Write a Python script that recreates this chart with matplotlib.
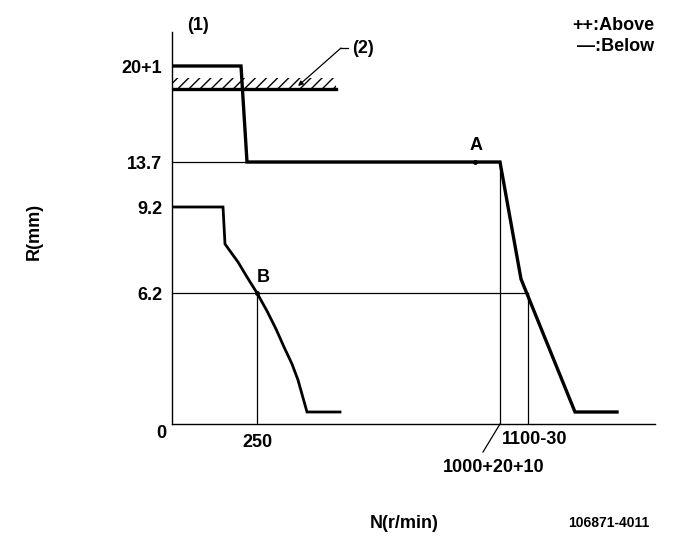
import matplotlib
matplotlib.use("Agg")
import matplotlib.pyplot as plt
import numpy as np

plt.rcParams['font.family'] = ['Liberation Sans Narrow', 'DejaVu Sans Condensed', 'Liberation Sans', 'DejaVu Sans']
plt.rcParams['hatch.linewidth'] = 1.0

# Schematic drawing units (governor diagram, not to scale)
# y tick positions and labels
y_tick_pos = [131, 217, 262, 358]
y_tick_labels = ['6.2', '9.2', '13.7', '20+1']
# x tick positions/labels
x_tick_pos = [85]
x_tick_labels = ['250']

# Upper (full-load) curve
upper_x = [0, 69, 75, 328, 349, 403, 445]
upper_y = [358, 358, 262, 262, 145, 12, 12]
# Lower (idle) curve
lower_x = [0, 51, 53, 58, 66, 75, 85, 95, 104, 112, 120, 126, 135, 168]
lower_y = [217, 217, 180, 173, 162, 147, 131, 113, 95, 77, 60, 44, 12, 12]
# Stopper line (2)
stop_x = [0, 164]
stop_y = [335, 335]
stop_hatch_top = 346

# reference lines
ref_h = [(262, 0, 328), (131, 0, 356)]
ref_v = [(85, 0, 131), (328, 0, 262), (356, 0, 131)]

W, H = 681, 549
fig = plt.figure(figsize=(W/100, H/100), dpi=100)
L, B, R, T = 172, 424, 655, 32
ax = fig.add_axes([L/W, (H-B)/H, (R-L)/W, (B-T)/H])
ax.set_xlim(0, R-L)
ax.set_ylim(0, B-T)
for s in ['top', 'right']:
    ax.spines[s].set_visible(False)
for s in ['left', 'bottom']:
    ax.spines[s].set_linewidth(1.0)

tfont = dict(fontsize=13, fontweight='bold')
ax.set_yticks(y_tick_pos)
ax.set_yticklabels(y_tick_labels, **tfont)
ax.set_xticks(x_tick_pos)
ax.set_xticklabels(x_tick_labels, **tfont)
ax.tick_params(length=0, pad=7)

for y, x0, x1 in ref_h:
    ax.plot([x0, x1], [y, y], color='black', lw=0.9)
for x, y0, y1 in ref_v:
    ax.plot([x, x], [y0, y1], color='black', lw=0.9)

ax.plot(upper_x, upper_y, color='black', lw=2.4, solid_joinstyle='miter')
ax.plot(lower_x, lower_y, color='black', lw=2.0, solid_joinstyle='miter')
ax.plot(stop_x, stop_y, color='black', lw=2.4)
ax.fill_between(stop_x, stop_y[0], stop_hatch_top, facecolor='none',
                edgecolor='black', hatch='///', lw=0)

# markers A, B
ax.plot([303], [262], 'o', color='black', ms=2.5)
ax.text(304, 270, 'A', ha='center', va='bottom', **tfont)
ax.plot([85], [131], 'o', color='black', ms=2.5)
ax.text(91, 138, 'B', ha='center', va='bottom', **tfont)

ax.text(-11, -10, '0', ha='center', va='center', **tfont)

# labels below x axis
ax.text(330, -16, '1100-30', ha='left', va='center', **tfont)
ax.text(322, -43, '1000+20+10', ha='center', va='center', **tfont)
ax.plot([328, 311], [0, -28], color='black', lw=0.9, clip_on=False)

# (2) leader
ax.annotate('', xy=(126, 338), xytext=(169, 376),
            arrowprops=dict(arrowstyle='-|>', color='black', lw=0.9,
                            mutation_scale=7, shrinkA=0, shrinkB=0),
            annotation_clip=False)
ax.plot([169, 176], [376, 376], color='black', lw=0.9, clip_on=False)
ax.text(180, 376, '(2)', ha='left', va='center', **tfont)

fig.text(198/W, 1-25/H, '(1)', ha='center', va='center', **tfont)
fig.text(654/W, 1-25/H, '++:Above', ha='right', va='center', **tfont)
fig.text(654/W, 1-47/H, '\u2014:Below', ha='right', va='center', **tfont)
fig.text(34/W, 1-231/H, 'R(mm)', ha='center', va='center', rotation=90, **tfont)
fig.text(404/W, 1-523/H, 'N(r/min)', ha='center', va='center', **tfont)
fig.text(609/W, 1-523/H, '106871-4011', ha='center', va='center',
         fontsize=10, fontweight='bold')

fig.savefig('out.png', dpi=100)
